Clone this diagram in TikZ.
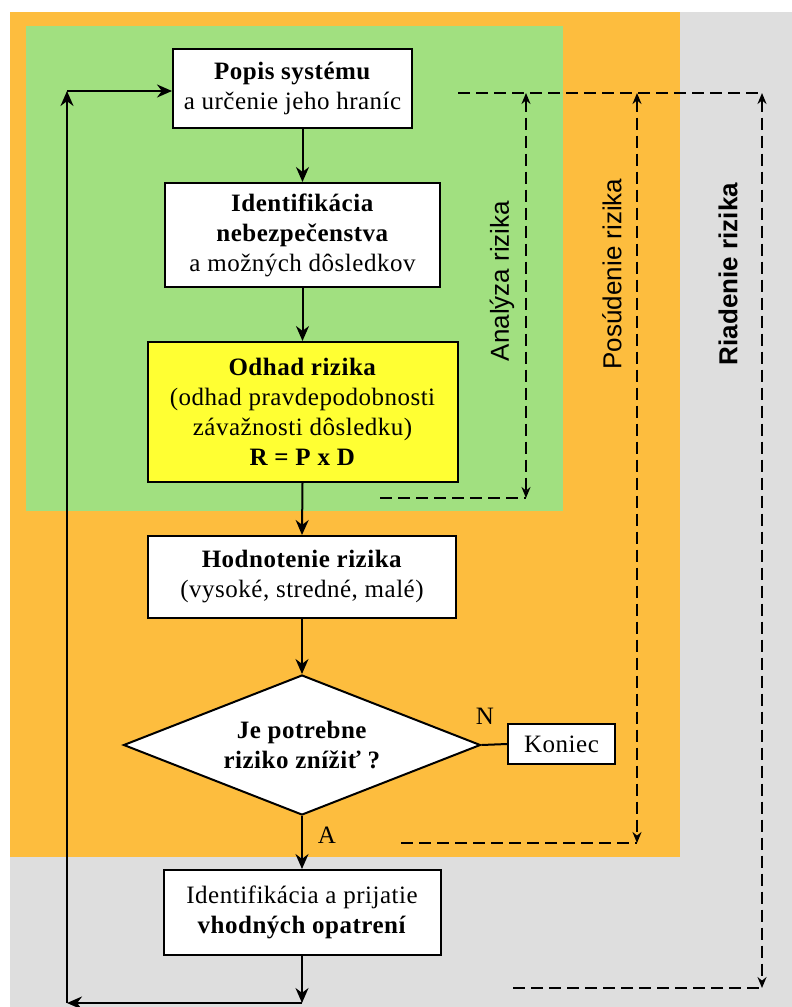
\documentclass[tikz,border=0pt]{standalone}
\usepackage{fontspec}
\setmainfont[LetterSpace=2]{Liberation Serif}
\setsansfont{Liberation Sans}
\usetikzlibrary{arrows.meta,shapes.geometric}
\definecolor{riadgray}{RGB}{222,222,222}
\definecolor{posorange}{RGB}{253,189,62}
\definecolor{anagreen}{RGB}{161,224,128}
\definecolor{odhadyellow}{RGB}{255,255,51}
\tikzset{
  box/.style={draw,fill=white,line width=2pt,align=center,inner sep=0pt,
    font=\fontsize{25}{30}\selectfont},
  flow/.style={line width=2pt,-{Stealth[length=15pt,width=13pt]}},
  dimline/.style={line width=1.8pt,dash pattern=on 12pt off 6pt},
  dimtips/.style={{Stealth[length=11pt,width=9pt]}-{Stealth[length=11pt,width=9pt]}},
  sidelabel/.style={rotate=90,font=\sffamily\fontsize{26}{30}\selectfont},
  answer/.style={font=\fontsize{25}{30}\selectfont}
}
\begin{document}
\begin{tikzpicture}[x=1pt,y=-1pt]
\useasboundingbox (0,0) rectangle (792,1007);
\fill[white] (0,0) rectangle (792,1007);
\fill[riadgray] (10,12) rectangle (792,1007);
\fill[posorange] (10,12) rectangle (680,857);
\fill[anagreen] (26,26) rectangle (563,511);

% flow
\node[box,minimum width=239pt,minimum height=79pt] (popis) at (292.5,88.5)
  {\textbf{Popis systému}\\a určenie jeho hraníc};
\node[box,minimum width=275pt,minimum height=104pt] (ident) at (302.5,235)
  {\textbf{Identifikácia}\\\textbf{nebezpečenstva}\\a možných dôsledkov};
\node[box,fill=odhadyellow,minimum width=310pt,minimum height=140pt] (odhad) at (302.5,412)
  {\textbf{Odhad rizika}\\(odhad pravdepodobnosti\\závažnosti dôsledku)\\\textbf{R = P x D}};
\node[box,minimum width=308pt,minimum height=82pt] (hodnot) at (302,577)
  {\textbf{Hodnotenie rizika}\\(vysoké, stredné, malé)};
\node[box,diamond,aspect=2.5,minimum width=357pt,minimum height=140pt] (otazka) at (302,745)
  {\textbf{Je potrebne}\\\textbf{riziko znížiť ?}};
\node[box,minimum width=107pt,minimum height=40pt] (koniec) at (561.5,744) {Koniec};
\node[box,minimum width=277pt,minimum height=85pt] (opatr) at (302,912.5)
  {Identifikácia a prijatie\\\textbf{vhodných opatrení}};
\node[answer] (nie) at (485,716) {N};
\node[answer] (ano) at (327,835) {A};

\coordinate (spodok) at (67,1003);
\coordinate (hore) at (67,91);
\draw[flow] (popis.south -| ident.north) -- (ident.north);
\draw[flow] (ident.south) -- (odhad.north);
\draw[flow] (odhad.south) -- (hodnot.north);
\draw[flow] (hodnot.south) -- (otazka.north);
\draw[line width=2pt] (otazka.east) -- (koniec.west);
\draw[flow] (otazka.south) -- (opatr.north);
\draw[flow] (opatr.south) -- (opatr.south |- spodok);
\draw[flow] (opatr.south |- spodok) -- (spodok);
\draw[flow] (spodok) -- (hore);
\draw[flow] (hore) -- (hore -| popis.west);

% ranges
\coordinate (dimtop) at (458,93);
\coordinate (anax) at (526,93);
\coordinate (posx) at (637,93);
\coordinate (riax) at (762,93);
\coordinate (anabot) at (380,498);
\coordinate (posbot) at (401,843);
\coordinate (riabot) at (513,988);
\draw[dimline] (dimtop) -- (riax);
\draw[dimline,dimtips] (anax) -- (anax |- anabot);
\draw[dimline] (anabot) -- (anax |- anabot);
\draw[dimline,dimtips] (posx) -- (posx |- posbot);
\draw[dimline] (posbot) -- (posx |- posbot);
\draw[dimline,dimtips] (riax) -- (riax |- riabot);
\draw[dimline] (riabot) -- (riax |- riabot);
\node[sidelabel] (analyza) at (502,281) {Analýza rizika};
\node[sidelabel] (posudenie) at (612,274) {Posúdenie rizika};
\node[sidelabel,font=\sffamily\bfseries\fontsize{26}{30}\selectfont] (riadenie) at (728,274) {Riadenie rizika};
\end{tikzpicture}
\end{document}
